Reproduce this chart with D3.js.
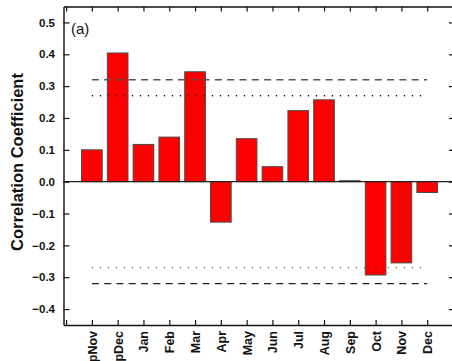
<!DOCTYPE html>
<html>
<head>
<meta charset="utf-8">
<script src="https://cdn.jsdelivr.net/npm/d3@7"></script>
<style>
  html, body { margin: 0; padding: 0; background: #fff; }
  svg { display: block; font-family: "Liberation Sans", Arial, sans-serif; }
</style>
</head>
<body>
<svg id="chart" width="452" height="361"></svg>
<script>
// Monthly correlation coefficients (previous Nov/Dec through Dec)
const months = ["pNov", "pDec", "Jan", "Feb", "Mar", "Apr", "May", "Jun", "Jul", "Aug", "Sep", "Oct", "Nov", "Dec"];
const correlations = [0.100, 0.404, 0.117, 0.140, 0.345, -0.127, 0.135, 0.047, 0.223, 0.257, 0.003, -0.293, -0.255, -0.034];
// Significance thresholds (dashed = 0.01 level, dotted = 0.05 level)
const dashedLevels = [0.32, -0.32];
const dottedLevels = [0.27, -0.27];
const yTicks = [-0.4, -0.3, -0.2, -0.1, 0.0, 0.1, 0.2, 0.3, 0.4, 0.5];
const panelLabel = "(a)";
const yTitle = "Correlation Coefficient";

const svg = d3.select("#chart");
const plotLeft = 63.5, plotRight = 453, plotTop = 6.5, plotBottom = 325;

const x = d3.scaleLinear().domain([-0.1, 15]).range([plotLeft, plotRight]);
const y = d3.scaleLinear().domain([-0.45, 0.55]).range([plotBottom, plotTop]);
const pos = i => i + 1;            // month i sits at x-unit i+1
const barW = x(0.8) - x(0);

const fmt = v => (v < 0 ? "\u2212" : "") + Math.abs(v).toFixed(1);

// bars
svg.append("g").selectAll("rect")
  .data(correlations)
  .join("rect")
  .attr("x", (d, i) => x(pos(i)) - barW / 2)
  .attr("width", barW)
  .attr("y", d => y(Math.max(0, d)))
  .attr("height", d => Math.max(1, Math.abs(y(d) - y(0))))
  .attr("fill", "#ff0000")
  .attr("stroke", "#4a4a4a")
  .attr("stroke-width", 1);

// zero line
svg.append("line")
  .attr("x1", plotLeft).attr("x2", plotRight)
  .attr("y1", y(0)).attr("y2", y(0))
  .attr("stroke", "#222").attr("stroke-width", 1.2);

// threshold lines
const x1 = x(pos(0)), x2 = x(pos(months.length - 1));
svg.append("g").selectAll("line")
  .data(dashedLevels)
  .join("line")
  .attr("x1", x1).attr("x2", x2)
  .attr("y1", d => y(d)).attr("y2", d => y(d))
  .attr("stroke", d => d > 0 ? "#555" : "#222")
  .attr("stroke-width", 1.4)
  .attr("stroke-dasharray", "7,5.3");

svg.append("g").selectAll("line")
  .data(dottedLevels)
  .join("line")
  .attr("x1", x1).attr("x2", x2)
  .attr("y1", d => y(d)).attr("y2", d => y(d))
  .attr("stroke", d => d > 0 ? "#222" : "#666")
  .attr("stroke-width", 1.4)
  .attr("stroke-dasharray", "1.3,6.7");

// left axis
const gy = svg.append("g")
  .attr("transform", `translate(${plotLeft},0)`)
  .call(d3.axisLeft(y).tickValues(yTicks).tickFormat(fmt)
    .tickSizeInner(-6).tickSizeOuter(0).tickPadding(8.5));
gy.select(".domain").attr("stroke", "#111").attr("stroke-width", 1.4);
gy.selectAll(".tick line").attr("stroke", "#111").attr("stroke-width", 1.2);
gy.selectAll("text").attr("font-size", 11.5).attr("font-weight", "bold").attr("fill", "#111");

// right axis (ticks only visible)
const gr = svg.append("g")
  .attr("transform", `translate(454,0)`)
  .call(d3.axisRight(y).tickValues(yTicks).tickFormat("")
    .tickSizeInner(-5).tickSizeOuter(0));
gr.select(".domain").attr("stroke", "#111").attr("stroke-width", 1.4);
gr.selectAll(".tick line").attr("stroke", "#111").attr("stroke-width", 1.2);

// bottom axis
const xTicks = d3.range(0, months.length + 1);
const gx = svg.append("g")
  .attr("transform", `translate(0,${plotBottom})`)
  .call(d3.axisBottom(x).tickValues(xTicks)
    .tickFormat(v => v === 0 ? "" : months[v - 1])
    .tickSizeInner(-5).tickSizeOuter(0));
gx.select(".domain").attr("stroke", "#111").attr("stroke-width", 1.4);
gx.selectAll(".tick line").attr("stroke", "#111").attr("stroke-width", 1.2);
gx.selectAll("text")
  .attr("font-size", 12.5).attr("font-weight", "bold").attr("fill", "#111")
  .attr("transform", "rotate(-90)")
  .attr("y", 0).attr("x", -6).attr("dy", "0.36em")
  .style("text-anchor", "end");

// top axis
const gt = svg.append("g")
  .attr("transform", `translate(0,${plotTop})`)
  .call(d3.axisTop(x).tickValues(xTicks).tickFormat("")
    .tickSizeInner(-5).tickSizeOuter(0));
gt.select(".domain").attr("stroke", "#111").attr("stroke-width", 1.4);
gt.selectAll(".tick line").attr("stroke", "#111").attr("stroke-width", 1.2);

// panel label
svg.append("text")
  .attr("x", 71).attr("y", 34)
  .attr("font-size", 15).attr("fill", "#111")
  .text(panelLabel);

// y-axis title
svg.append("text")
  .attr("transform", `translate(23,162) rotate(-90)`)
  .attr("text-anchor", "middle")
  .attr("font-size", 16.5).attr("font-weight", "bold").attr("fill", "#111")
  .text(yTitle);
</script>
</body>
</html>
